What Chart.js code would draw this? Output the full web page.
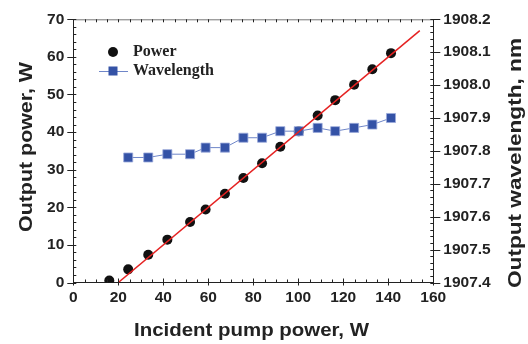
<!DOCTYPE html>
<html><head><meta charset="utf-8">
<script src="https://cdn.jsdelivr.net/npm/chart.js@4/dist/chart.umd.min.js"></script>
<style>html,body{margin:0;padding:0;background:#fff;}#c{display:block;}</style>
</head><body>
<canvas id="c" width="528" height="344"></canvas>
<script>
// ---- data ----
const pumpPower   = [16.0,24.4,33.3,41.8,51.9,58.8,67.4,75.6,83.9,92.0,100.2,108.6,116.4,124.8,132.9,141.2];
const outputPower = [0.5,3.5,7.4,11.4,16.1,19.4,23.6,27.8,31.7,36.1,40.2,44.4,48.5,52.6,56.7,61.0];
const wlPump      = [24.4,33.3,41.8,51.9,58.8,67.4,75.6,83.9,92.0,100.2,108.6,116.4,124.8,132.9,141.2];
const wavelength  = [1907.78,1907.78,1907.79,1907.79,1907.81,1907.81,1907.84,1907.84,1907.86,1907.86,1907.87,1907.86,1907.87,1907.88,1907.90];
const fitX = [20,154];
const fitY = [0,67];
const xTicks  = [0,20,40,60,80,100,120,140,160];
const yTicks  = [0,10,20,30,40,50,60,70];
const y2Ticks = ['1907.4','1907.5','1907.6','1907.7','1907.8','1907.9','1908.0','1908.1','1908.2'];
const seriesNames = ['Power','Wavelength'];
const xTitle = 'Incident pump power, W';
const yTitle = 'Output power, W';
const y2Title = 'Output wavelength, nm';

const zip = (xs, ys) => xs.map((x,i)=>({x:x, y:ys[i]}));
const tickFont = {family:'"Liberation Sans", Arial, sans-serif', size:15.5, weight:'bold'};

function stretchedText(ctx, text, x, y, rot, targetLen){
  const w = ctx.measureText(text).width;
  ctx.save(); ctx.translate(x, y); ctx.rotate(rot); ctx.scale(targetLen / w, 1);
  ctx.fillText(text, 0, 0); ctx.restore();
}

const frameTicks = {
  id:'frameTicks',
  afterDraw(chart){
    const ctx = chart.ctx, a = chart.chartArea;
    const sx = chart.scales.x, sy = chart.scales.y, sy2 = chart.scales.y2;
    ctx.save();
    ctx.strokeStyle = '#777'; ctx.lineWidth = 1;
    ctx.beginPath(); ctx.moveTo(a.left, a.top+0.5); ctx.lineTo(a.right, a.top+0.5); ctx.stroke();
    ctx.strokeStyle = '#222';
    ctx.beginPath();
    for (let i=0;i<=32;i++){
      const v = i*5, px = Math.round(sx.getPixelForValue(v))+0.5;
      const major = (v%20===0);
      ctx.moveTo(px, a.bottom + (major?3:0)); ctx.lineTo(px, a.bottom - (major?4:3));
      ctx.moveTo(px, a.top); ctx.lineTo(px, a.top + 3);
    }
    for (let i=0;i<=35;i++){
      const v = i*2, py = Math.round(sy.getPixelForValue(v))+0.5;
      const major = (v%10===0);
      ctx.moveTo(a.left - (major?6:0), py); ctx.lineTo(a.left + 3, py);
    }
    for (let i=0;i<=40;i++){
      const v = 1907.4 + i*0.02, py = Math.round(sy2.getPixelForValue(v))+0.5;
      const major = (i%5===0);
      ctx.moveTo(a.right + (major?7:0), py); ctx.lineTo(a.right - 3, py);
    }
    ctx.stroke();

    // legend
    const lx = 113, ly1 = 52, ly2 = 71;
    ctx.fillStyle = '#111';
    ctx.beginPath(); ctx.arc(lx, ly1, 5, 0, Math.PI*2); ctx.fill();
    ctx.strokeStyle = '#6f86c8'; ctx.lineWidth = 1;
    ctx.beginPath(); ctx.moveTo(99, ly2+0.5); ctx.lineTo(128, ly2+0.5); ctx.stroke();
    ctx.fillStyle = '#3452a6'; ctx.fillRect(lx-4.5, ly2-4.5, 9, 9);
    ctx.font = 'bold 16px "Liberation Serif", "Times New Roman", serif';
    ctx.fillStyle = '#222'; ctx.textBaseline = 'middle'; ctx.textAlign = 'left';
    ctx.fillText(seriesNames[0], 133, ly1);
    ctx.fillText(seriesNames[1], 133, ly2);

    // axis titles
    ctx.font = 'bold 19px "Liberation Sans", Arial, sans-serif';
    ctx.fillStyle = '#222'; ctx.textBaseline = 'alphabetic'; ctx.textAlign = 'left';
    stretchedText(ctx, xTitle, 134, 336, 0, 235);
    stretchedText(ctx, yTitle, 31.5, 232, -Math.PI/2, 170);
    stretchedText(ctx, y2Title, 521, 288, -Math.PI/2, 250);
    ctx.restore();
  }
};

new Chart(document.getElementById('c'), {
  type:'scatter',
  data:{datasets:[
    {label:'Fit', data:zip(fitX, fitY), showLine:true, borderColor:'#e52222', borderWidth:1.5, pointRadius:0, yAxisID:'y', order:0},
    {label:seriesNames[1], data:zip(wlPump, wavelength), showLine:true, borderColor:'#6f86c8', borderWidth:1,
     pointStyle:'rect', pointRadius:6.4, pointBackgroundColor:'#3452a6', pointBorderColor:'#9aaadb', pointBorderWidth:0.8, yAxisID:'y2', order:1},
    {label:seriesNames[0], data:zip(pumpPower, outputPower), pointStyle:'circle', pointRadius:5, pointBackgroundColor:'#111', pointBorderColor:'#111', pointBorderWidth:0, yAxisID:'y', order:2}
  ]},
  options:{
    responsive:false, animation:false,
    layout:{padding:{top:17.5,left:0,right:0,bottom:0}},
    plugins:{legend:{display:false}, tooltip:{enabled:false}},
    scales:{
      x:{type:'linear', min:0, max:160, position:'bottom',
        afterBuildTicks(s){ s.ticks = xTicks.map(v=>({value:v})); },
        afterFit(s){ s.height = 61.5; },
        grid:{display:true, drawOnChartArea:false, drawTicks:false},
        border:{display:true, color:'#222', width:1},
        ticks:{font:tickFont, color:'#222', padding:6, maxRotation:0}},
      y:{type:'linear', min:0, max:70, position:'left',
        afterBuildTicks(s){ s.ticks = yTicks.map(v=>({value:v})); },
        afterFit(s){ s.width = 73.3; },
        grid:{display:true, drawOnChartArea:false, drawTicks:false},
        border:{display:true, color:'#222', width:1},
        ticks:{font:tickFont, color:'#222', padding:9}},
      y2:{type:'linear', min:1907.4, max:1908.2, position:'right',
        afterBuildTicks(s){ s.ticks = y2Ticks.map(v=>({value:parseFloat(v)})); },
        afterFit(s){ s.width = 94.7; },
        grid:{display:true, drawOnChartArea:false, drawTicks:false},
        border:{display:true, color:'#222', width:1},
        ticks:{font:tickFont, color:'#222', padding:10, callback:(v)=>Number(v).toFixed(1)}}
    }
  },
  plugins:[frameTicks]
});
</script>
</body></html>
